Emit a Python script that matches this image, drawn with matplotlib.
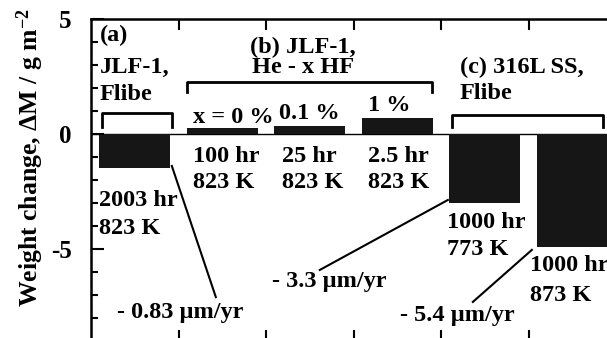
import matplotlib.pyplot as plt

plt.rcParams['font.family'] = ['Liberation Serif', 'DejaVu Serif']
plt.rcParams['font.weight'] = 'bold'
plt.rcParams['mathtext.fontset'] = 'custom'
plt.rcParams['mathtext.rm'] = 'Liberation Serif:bold'
plt.rcParams['mathtext.it'] = 'Liberation Serif:bold:italic'
plt.rcParams['mathtext.bf'] = 'Liberation Serif:bold'

# bar data: weight change (g/m2)
positions = [1, 2, 3, 4, 5, 6]
weight_change = [-1.5, 0.25, 0.33, 0.7, -3.0, -4.9]
yticks = [5, 0, -5]
ytick_labels = ['5', '0', '-5']

fig = plt.figure(figsize=(6.07, 3.38), dpi=100)
ax = fig.add_axes([0.150, -0.009, 0.865, 0.953])

ax.bar(positions, weight_change, width=0.81, color='#161616')
ax.axhline(0, color='black', lw=1.0, zorder=0)

ax.set_xlim(0.5, 6.5)
ax.set_ylim(-9, 5)
ax.set_yticks(yticks)
ax.set_yticklabels(ytick_labels, fontsize=18, fontweight='bold')
ax.set_yticks(range(-9, 6), minor=True)
ax.set_xticks([1.5, 2.5, 3.5, 4.5, 5.5])
ax.tick_params(axis='x', which='both', direction='in', top=True, bottom=True,
               labelbottom=False, length=8, width=1.5)
ax.tick_params(axis='y', which='major', direction='in', length=9, width=1.5, pad=14)
ax.tick_params(axis='y', which='minor', direction='in', length=5, width=1.5)
for s in ax.spines.values():
    s.set_linewidth(1.8)

fs = 17.5
tk = dict(fontsize=fs, fontweight='bold', ha='left', va='center')

# (a)
ax.text(0.60, 4.3, '(a)', **tk)
ax.text(0.60, 2.9, 'JLF-1,', **tk)
ax.text(0.60, 1.7, 'Flibe', **tk)
ax.plot([0.623, 0.623, 1.423, 1.423], [0.30, 0.91, 0.91, 0.30], color='black', lw=2)

# (b)
ax.text(2.92, 3.78, '(b) JLF-1,', fontsize=fs, fontweight='bold', ha='center', va='center')
ax.text(2.92, 2.91, 'He - x HF', fontsize=fs, fontweight='bold', ha='center', va='center')
ax.plot([1.594, 1.594, 4.394, 4.394], [1.83, 2.26, 2.26, 1.83], color='black', lw=2)
ax.text(1.663, 0.70, 'x = 0 %', **tk)
ax.text(2.646, 0.91, '0.1 %', **tk)
ax.text(3.663, 1.22, '1 %', **tk)

# (c)
ax.text(4.714, 2.91, '(c) 316L SS,', **tk)
ax.text(4.714, 1.78, 'Flibe', **tk)
ax.plot([4.62, 4.62, 6.35, 6.35], [0.30, 0.83, 0.83, 0.30], color='black', lw=2)

# conditions
ax.text(0.59, -2.87, '2003 hr', **tk)
ax.text(0.59, -4.09, '823 K', **tk)
ax.text(1.663, -1.0, '100 hr', **tk)
ax.text(1.663, -2.13, '823 K', **tk)
ax.text(2.68, -1.0, '25 hr', **tk)
ax.text(2.68, -2.13, '823 K', **tk)
ax.text(3.66, -1.0, '2.5 hr', **tk)
ax.text(3.66, -2.13, '823 K', **tk)
ax.text(4.566, -3.83, '1000 hr', **tk)
ax.text(4.566, -5.04, '773 K', **tk)
ax.text(5.514, -5.70, '1000 hr', **tk)
ax.text(5.514, -7.0, '873 K', **tk)

# corrosion rates
ax.text(0.794, -7.74, '- 0.83 µm/yr', **tk)
ax.plot([1.423, 1.926], [-1.39, -7.09], color='black', lw=1.5)
ax.text(2.566, -6.43, '- 3.3 µm/yr', **tk)
ax.plot([3.114, 4.577], [-5.91, -2.87], color='black', lw=1.5)
ax.text(4.03, -7.87, '- 5.4 µm/yr', **tk)
ax.plot([4.863, 5.537], [-7.30, -5.04], color='black', lw=1.5)

fig.text(30 / 607, 1 - 158 / 338, 'Weight change, ΔM / g m$^{-2}$', rotation=90,
         fontsize=18.5, fontweight='bold', ha='center', va='center')

fig.savefig('out.png', dpi=100)
